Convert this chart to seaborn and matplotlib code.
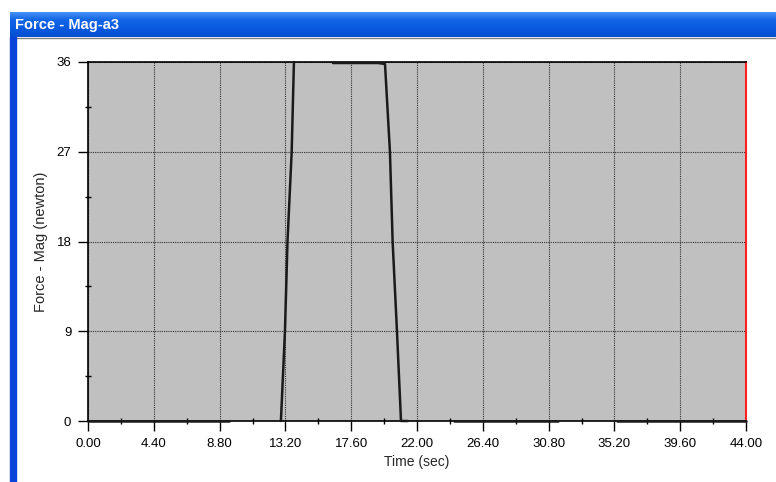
import numpy as np
import pandas as pd
import matplotlib.pyplot as plt
import seaborn as sns
from matplotlib.patches import Rectangle
from matplotlib.ticker import MultipleLocator, FixedLocator

# force trace, split into the drawn segments (gaps in the original trace)
seg_ids = [0, 0,
           1, 1, 1, 1, 1,
           2, 2, 2, 2, 2, 2, 2, 2,
           3, 3,
           4, 4]
time_sec = [0.0, 9.4,
            12.9, 13.17, 13.34, 13.62, 13.77,
            16.38, 19.39, 19.86, 20.19, 20.37, 20.66, 20.93, 21.4,
            24.5, 31.4,
            35.4, 44.0]
force_n = [0.0, 0.0,
           0.0, 9.0, 18.0, 27.0, 36.0,
           35.9, 35.9, 35.8, 27.0, 18.0, 9.0, 0.0, 0.0,
           0.0, 0.0,
           0.0, 0.0]

x_ticks = [0.0, 4.4, 8.8, 13.2, 17.6, 22.0, 26.4, 30.8, 35.2, 39.6, 44.0]
y_ticks = [0, 9, 18, 27, 36]

df = pd.DataFrame({"seg": seg_ids, "t": time_sec, "f": force_n})

sns.set_style("white")
plt.rcParams["font.family"] = ["Liberation Sans", "DejaVu Sans"]

fig = plt.figure(figsize=(7.76, 4.82), dpi=100)
fig.patch.set_facecolor("white")

# window chrome: title bar and left border
bar = fig.add_axes([10 / 776, (482 - 37) / 482, 1 - 10 / 776, 25 / 482])
grad = np.linspace(0, 1, 50).reshape(-1, 1)
cmap = sns.blend_palette(["#4a98f8", "#1466e6", "#0a5ae0", "#0550d0"], as_cmap=True)
bar.imshow(grad, aspect="auto", cmap=cmap, extent=[0, 1, 0, 1])
bar.set_axis_off()
bar.text(0.006, 0.48, "Force - Mag-a3", color="white", fontsize=10.5,
         fontweight="bold", va="center", ha="left", transform=bar.transAxes)
fig.patches.append(Rectangle((10 / 776, 0), 6 / 776, (482 - 37) / 482,
                             transform=fig.transFigure, color="#0a44d8", zorder=5))
fig.lines.append(plt.Line2D([16 / 776, 1], [(482 - 38) / 482] * 2,
                            transform=fig.transFigure, color="#808080", lw=1))

ax = fig.add_axes([88 / 776, 61 / 482, (746 - 88) / 776, (421 - 62) / 482])
ax.set_facecolor("#c0c0c0")

sns.lineplot(data=df, x="t", y="f", units="seg", estimator=None,
             color="#1a1a1a", lw=1.8, ax=ax, legend=False, zorder=4)
for ln in ax.lines:
    ln.set_clip_on(False)

ax.set_xlim(0, 44)
ax.set_ylim(0, 36)
ax.xaxis.set_major_locator(FixedLocator(x_ticks))
ax.set_xticklabels([f"{v:.2f}" for v in x_ticks])
ax.xaxis.set_minor_locator(MultipleLocator(2.2))
ax.yaxis.set_major_locator(FixedLocator(y_ticks))
ax.yaxis.set_minor_locator(MultipleLocator(4.5))

ax.grid(True, which="major", color="#303030", ls=(0, (1, 1)), lw=0.8)
ax.tick_params(which="major", direction="out", length=7, width=1, labelsize=9.5,
               colors="black", pad=5)
ax.tick_params(which="minor", direction="inout", length=5, width=1, colors="black")
ax.tick_params(axis="both", which="both", bottom=True, left=True)

for side in ["left", "bottom", "top"]:
    ax.spines[side].set_visible(True)
    ax.spines[side].set_color("black")
    ax.spines[side].set_linewidth(1.2)
ax.spines["right"].set_visible(True)
ax.spines["right"].set_color("#ff2020")
ax.spines["right"].set_linewidth(1.5)

ax.set_xlabel("Time (sec)", fontsize=10, labelpad=4)
ax.set_ylabel("Force - Mag (newton)", fontsize=10.5, labelpad=6)

fig.savefig("out.png", dpi=100)
